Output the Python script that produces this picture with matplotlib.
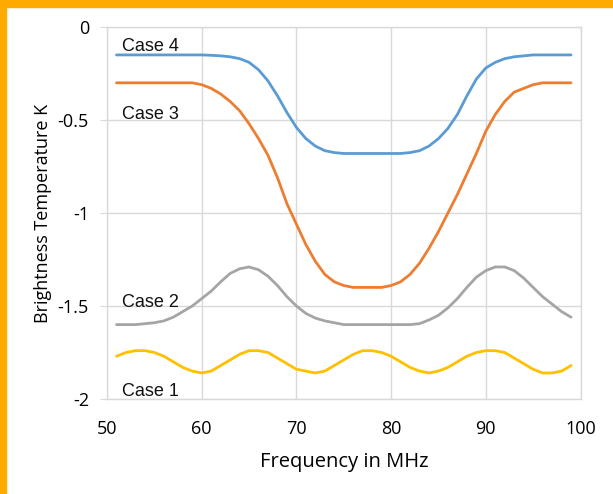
import matplotlib

matplotlib.use("Agg")
import matplotlib.pyplot as plt  # noqa: E402
from matplotlib.patches import Rectangle  # noqa: E402

plt.rcParams["axes.unicode_minus"] = False

# frequency grid, MHz
freq = list(range(51, 100))

case1 = [
    -1.77, -1.75, -1.74, -1.74, -1.75, -1.77, -1.80, -1.83, -1.85, -1.86,
    -1.85, -1.82, -1.79, -1.76, -1.74, -1.74, -1.75, -1.78, -1.81, -1.84,
    -1.85, -1.86, -1.85, -1.82, -1.79, -1.76, -1.74, -1.74, -1.75, -1.77,
    -1.80, -1.83, -1.85, -1.86, -1.85, -1.83, -1.80, -1.77, -1.75, -1.74,
    -1.74, -1.75, -1.78, -1.81, -1.84, -1.86, -1.86, -1.85, -1.82,
]
case2 = [
    -1.60, -1.60, -1.60, -1.595, -1.59, -1.58, -1.56, -1.53, -1.50, -1.46,
    -1.42, -1.37, -1.325, -1.30, -1.29, -1.305, -1.34, -1.39, -1.45, -1.50,
    -1.54, -1.565, -1.58, -1.59, -1.60, -1.60, -1.60, -1.60, -1.60, -1.60,
    -1.60, -1.60, -1.595, -1.575, -1.55, -1.51, -1.46, -1.40, -1.345, -1.31,
    -1.29, -1.29, -1.31, -1.35, -1.40, -1.45, -1.49, -1.53, -1.56,
]
case3 = [
    -0.30, -0.30, -0.30, -0.30, -0.30, -0.30, -0.30, -0.30, -0.30, -0.31,
    -0.33, -0.36, -0.40, -0.45, -0.52, -0.60, -0.69, -0.81, -0.95, -1.06,
    -1.17, -1.26, -1.33, -1.37, -1.39, -1.40, -1.40, -1.40, -1.40, -1.39,
    -1.37, -1.33, -1.27, -1.19, -1.10, -1.00, -0.90, -0.79, -0.68, -0.56,
    -0.47, -0.40, -0.35, -0.33, -0.31, -0.30, -0.30, -0.30, -0.30,
]
case4 = [
    -0.15, -0.15, -0.15, -0.15, -0.15, -0.15, -0.15, -0.15, -0.15, -0.15,
    -0.152, -0.155, -0.16, -0.17, -0.19, -0.23, -0.29, -0.37, -0.46, -0.54,
    -0.60, -0.64, -0.665, -0.675, -0.68, -0.68, -0.68, -0.68, -0.68, -0.68,
    -0.68, -0.675, -0.665, -0.64, -0.60, -0.545, -0.47, -0.37, -0.28, -0.22,
    -0.19, -0.17, -0.16, -0.155, -0.15, -0.15, -0.15, -0.15, -0.15,
]

series = [
    ("Case 1", case1, "#FFC000", -1.96),
    ("Case 2", case2, "#A5A5A5", -1.48),
    ("Case 3", case3, "#ED7D31", -0.47),
    ("Case 4", case4, "#5B9BD5", -0.107),
]

x_ticks = [50, 60, 70, 80, 90, 100]
y_ticks = [0, -0.5, -1, -1.5, -2]
y_tick_labels = ["0", "-0.5", "-1", "-1.5", "-2"]

figure = plt.figure(figsize=(6.13, 4.94), dpi=100, facecolor="white")
axis = figure.add_axes([0.1746, 0.1923, 0.7724, 0.753])

grid_color = "#d9d9d9"
for name, values, color, label_y in series:
    axis.plot(freq, values, color=color, lw=2.0, solid_capstyle="round", zorder=3)
    axis.text(51.6, label_y, name, ha="left", va="center", fontsize=13,
              family="Liberation Sans", color="#111111", zorder=4)

axis.set_xlim(50, 100)
axis.set_ylim(-2, 0)
axis.set_xticks(x_ticks)
axis.set_yticks(y_ticks)
axis.set_yticklabels(y_tick_labels)
axis.grid(True, color=grid_color, lw=1.0, zorder=0)
for spine in axis.spines.values():
    spine.set_color(grid_color)
    spine.set_linewidth(1.0)
axis.tick_params(axis="x", length=0, pad=15, labelsize=13)
axis.tick_params(axis="y", length=5, color=grid_color, pad=8, labelsize=13)
for label in axis.get_xticklabels() + axis.get_yticklabels():
    label.set_family("Open Sans")

axis.set_xlabel("Frequency in MHz", fontsize=14.5, family="Open Sans", labelpad=10)
axis.set_ylabel("Brightness Temperature K", fontsize=13, family="Open Sans",
                labelpad=4)

# orange frame strips along top and left edge
frame_color = "#FFAA00"
figure.patches.append(Rectangle((0, 1 - 7 / 494), 1, 7 / 494, color=frame_color,
                                transform=figure.transFigure, zorder=10))
figure.patches.append(Rectangle((0, 0), 6 / 613, 1, color=frame_color,
                                transform=figure.transFigure, zorder=10))

figure.savefig("out.png", dpi=100, facecolor="white")
plt.close(figure)
